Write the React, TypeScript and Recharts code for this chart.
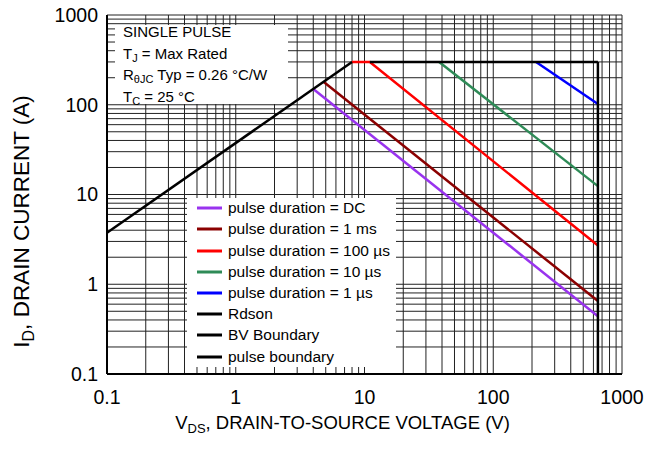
import React from 'react';
import { LineChart, Line, XAxis, YAxis, CartesianGrid, Legend } from 'recharts';

const FONT = '"Liberation Sans", Arial, Helvetica, sans-serif';

// Log grid: decades and the 1..9 multipliers inside each decade
const DECADES = [0.1, 1, 10, 100];
const MULTIPLIERS = [1, 2, 3, 4, 5, 6, 7, 8, 9];
const AXIS_MAX = 1000;
const TICK_LABELS: Record<string, string> = { '-1': '0.1', '0': '1', '1': '10', '2': '100', '3': '1000' };

const gridValues: number[] = [];
DECADES.forEach((d) => MULTIPLIERS.forEach((m) => gridValues.push(+(m * d).toPrecision(6))));
gridValues.push(AXIS_MAX);

const tickFmt = (v: number) => {
  const l = Math.log10(v);
  const r = Math.round(l);
  return Math.abs(l - r) < 1e-6 ? TICK_LABELS[String(r)] ?? '' : '';
};

// Safe operating area limits (V_DS in volts, I_D in amps)
const DC_V = [4, 650];
const DC_I = [150, 0.44];
const MS1_V = [4.8, 650];
const MS1_I = [180, 0.65];
const US100_V = [8, 11, 650];
const US100_I = [300, 300, 2.7];
const US10_V = [38, 650];
const US10_I = [300, 12.4];
const US1_V = [215, 650];
const US1_I = [300, 102];
const RDSON_V = [0.1, 8];
const RDSON_I = [3.75, 300];
const BV_V = [650, 650];
const BV_I = [300, 0.1];
const PULSE_V = [11, 650];
const PULSE_I = [300, 300];

const toPoints = (v: number[], i: number[]) => v.map((x, k) => ({ v: x, i: i[k] }));

const SERIES = [
  { name: 'pulse duration = DC', color: '#9933ee', data: toPoints(DC_V, DC_I) },
  { name: 'pulse duration = 1 ms', color: '#8b0000', data: toPoints(MS1_V, MS1_I) },
  { name: 'pulse duration = 100 µs', color: '#ff0000', data: toPoints(US100_V, US100_I) },
  { name: 'pulse duration = 10 µs', color: '#2e8b57', data: toPoints(US10_V, US10_I) },
  { name: 'pulse duration = 1 µs', color: '#0000ff', data: toPoints(US1_V, US1_I) },
  { name: 'Rdson', color: '#000000', data: toPoints(RDSON_V, RDSON_I) },
  { name: 'BV Boundary', color: '#000000', data: toPoints(BV_V, BV_I) },
  { name: 'pulse boundary', color: '#000000', data: toPoints(PULSE_V, PULSE_I) },
];

const XTitle = (props: any) => {
  const { x, y, width } = props.viewBox;
  return (
    <text x={x + width / 2 - 22} y={y + 55} textAnchor="middle" fontSize={18.5} fontFamily={FONT} fill="#000">
      V<tspan dy={4} fontSize={13}>DS</tspan>
      <tspan dy={-4}>, DRAIN-TO-SOURCE VOLTAGE (V)</tspan>
    </text>
  );
};

const YTitle = (props: any) => {
  const { x, y, height } = props.viewBox;
  const cx = x - 18;
  const cy = y + height / 2 + 27;
  return (
    <text
      x={cx}
      y={cy}
      transform={`rotate(-90, ${cx}, ${cy})`}
      textAnchor="middle"
      fontSize={22.5}
      fontFamily={FONT}
      fill="#000"
    >
      I<tspan dy={5} fontSize={16}>D</tspan>
      <tspan dy={-5}>, DRAIN CURRENT (A)</tspan>
    </text>
  );
};

const LegendBox = () => (
  <div style={{ background: '#fff', padding: '0 6px 0 10px', fontFamily: FONT, fontSize: 15.5, color: '#000' }}>
    {SERIES.map((s) => (
      <div key={s.name} style={{ display: 'flex', alignItems: 'center', height: 21.2, whiteSpace: 'nowrap' }}>
        <svg width={25} height={4} style={{ marginRight: 6, display: 'block' }}>
          <line x1={0} y1={2} x2={25} y2={2} stroke={s.color} strokeWidth={3} />
        </svg>
        <span>{s.name}</span>
      </div>
    ))}
  </div>
);

const subStyle: React.CSSProperties = { fontSize: 11, lineHeight: 0, position: 'relative', top: 3, verticalAlign: 'baseline' };

export default function App() {
  return (
    <div style={{ position: 'absolute', left: 0, top: 0, width: 651, height: 449, background: '#fff' }}>
      <LineChart width={651} height={449} margin={{ top: 15, right: 29, bottom: 45, left: 47 }}>
        <CartesianGrid stroke="#222" strokeWidth={1} />
        <XAxis
          dataKey="v"
          type="number"
          scale="log"
          domain={[0.1, AXIS_MAX]}
          allowDataOverflow
          ticks={gridValues}
          interval={0}
          tickFormatter={tickFmt}
          tickLine={false}
          tickSize={8}
          tickMargin={8}
          height={30}
          axisLine={{ stroke: '#000', strokeWidth: 2 }}
          tick={{ fill: '#000', fontSize: 19.5, fontFamily: FONT }}
          label={<XTitle />}
        />
        <YAxis
          type="number"
          scale="log"
          domain={[0.1, AXIS_MAX]}
          allowDataOverflow
          ticks={gridValues}
          interval={0}
          tickFormatter={tickFmt}
          tickLine={false}
          tickSize={8}
          tickMargin={1}
          width={60}
          axisLine={{ stroke: '#000', strokeWidth: 2 }}
          tick={{ fill: '#000', fontSize: 19.5, fontFamily: FONT }}
          label={<YTitle />}
        />
        {SERIES.map((s) => (
          <Line
            key={s.name}
            data={s.data}
            dataKey="i"
            name={s.name}
            type="linear"
            stroke={s.color}
            strokeWidth={2.5}
            dot={false}
            activeDot={false}
            isAnimationActive={false}
          />
        ))}
        <Legend
          layout="vertical"
          align="center"
          verticalAlign="middle"
          content={<LegendBox />}
          wrapperStyle={{ left: 187, top: 197.7, width: 'auto' }}
        />
      </LineChart>
      <div
        style={{
          position: 'absolute',
          left: 115,
          top: 25,
          width: 173,
          height: 79,
          background: '#fff',
          fontFamily: FONT,
          fontSize: 15,
          color: '#000',
        }}
      >
        <div style={{ position: 'relative', top: -4, left: 8, lineHeight: '21.7px', whiteSpace: 'nowrap' }}>
          <div>SINGLE PULSE</div>
          <div>
            T<sub style={subStyle}>J</sub> = Max Rated
          </div>
          <div>
            R<sub style={subStyle}>θJC</sub> Typ = 0.26 °C/W
          </div>
          <div>
            T<sub style={subStyle}>C</sub> = 25 °C
          </div>
        </div>
      </div>
    </div>
  );
}
